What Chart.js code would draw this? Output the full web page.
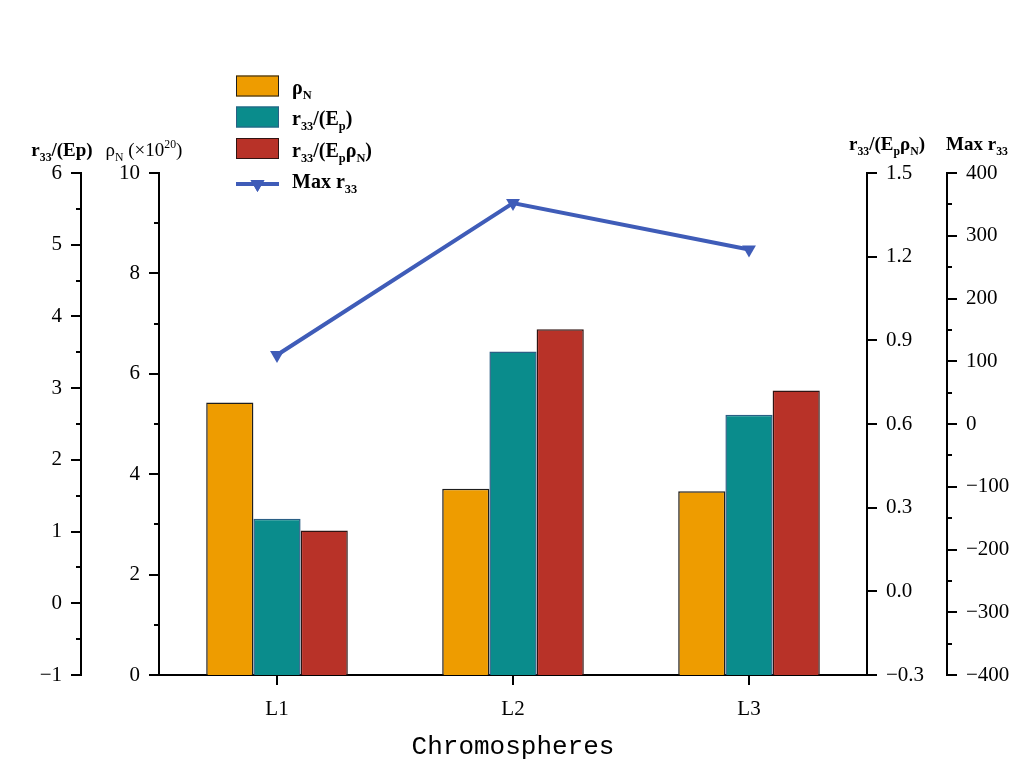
<!DOCTYPE html>
<html>
<head>
<meta charset="utf-8">
<script src="https://cdn.jsdelivr.net/npm/chart.js@4.4.0/dist/chart.umd.min.js"></script>
<style>html,body{margin:0;background:#fff}</style>
</head>
<body>
<canvas id="chart" width="1023" height="783"></canvas>
<script>
const categories = ["L1", "L2", "L3"];
const rhoN = [5.43, 3.71, 3.66];        // ρN (x10^20)
const r33Ep = [1.18, 3.51, 2.63];       // r33/(Ep)
const r33EpRho = [0.218, 0.94, 0.72];   // r33/(Ep ρN)
const maxR33 = [110, 352, 278];         // Max r33

// rich text pieces: [text, "sub"|"sup"|"", bold]
const legendLabels = [
  [["ρ", "", true], ["N", "sub", true]],
  [["r", "", true], ["33", "sub", true], ["/(E", "", true], ["p", "sub", true], [")", "", true]],
  [["r", "", true], ["33", "sub", true], ["/(E", "", true], ["p", "sub", true], ["ρ", "", true], ["N", "sub", true], [")", "", true]],
  [["Max r", "", true], ["33", "sub", true]]
];
const axisTitles = {
  yEp: [["r", "", true], ["33", "sub", true], ["/(Ep)", "", true]],
  yRho: [["ρ", "", false], ["N", "sub", false], [" (×10", "", false], ["20", "sup", false], [")", "", false]],
  yEpRho: [["r", "", true], ["33", "sub", true], ["/(E", "", true], ["p", "sub", true], ["ρ", "", true], ["N", "sub", true], [")", "", true]],
  yMax: [["Max r", "", true], ["33", "sub", true]]
};
const minorSteps = { yEp: 0.5, yRho: 1, yMax: 50 };

const SERIF = '"Liberation Serif", "DejaVu Serif", serif';
const minus = v => String(v).replace('-', '\u2212');

function richWidth(ctx, parts, size) {
  let w = 0;
  for (const [t, kind, bold] of parts) {
    ctx.font = `${bold ? 'bold ' : ''}${kind ? size * 0.62 : size}px ${SERIF}`;
    w += ctx.measureText(t).width;
  }
  return w;
}
function drawRich(ctx, parts, x, y, size) {
  let cx = x;
  for (const [t, kind, bold] of parts) {
    ctx.font = `${bold ? 'bold ' : ''}${kind ? size * 0.62 : size}px ${SERIF}`;
    const dy = kind === 'sub' ? size * 0.25 : kind === 'sup' ? -size * 0.4 : 0;
    ctx.fillText(t, cx, y + dy);
    cx += ctx.measureText(t).width;
  }
}

const axesPlugin = {
  id: 'axesPlugin',
  afterDraw(chart) {
    const ctx = chart.ctx;
    ctx.save();
    ctx.strokeStyle = '#000';
    ctx.lineWidth = 2;
    // y ticks, major + minor
    for (const id of ['yEp', 'yRho', 'yEpRho', 'yMax']) {
      const s = chart.scales[id];
      const isLeft = s.options.position === 'left';
      const x0 = isLeft ? s.right : s.left;
      const dir = isLeft ? -1 : 1;
      const tick = (v, len) => {
        const y = Math.round(s.getPixelForValue(v));
        ctx.beginPath();
        ctx.moveTo(x0, y);
        ctx.lineTo(x0 + dir * len, y);
        ctx.stroke();
      };
      s.ticks.forEach(t => tick(t.value, 10));
      const step = minorSteps[id];
      if (step) {
        const n = Math.round((s.max - s.min) / step);
        for (let i = 1; i < n; i += 2) tick(s.min + i * step, 5);
      }
      // axis title
      const size = 19;
      const parts = axisTitles[id];
      const w = richWidth(ctx, parts, size);
      const cx = isLeft ? x0 - (id === 'yEp' ? 19 : 15) : x0 + (id === 'yEpRho' ? 20 : 30);
      ctx.fillStyle = '#000';
      ctx.textAlign = 'left';
      ctx.textBaseline = 'alphabetic';
      drawRich(ctx, parts, cx - w / 2, isLeft ? 156 : 150, size);
    }
    // x ticks
    const xs = chart.scales.x;
    xs.ticks.forEach((t, i) => {
      const x = Math.round(xs.getPixelForTick(i));
      ctx.beginPath();
      ctx.moveTo(x, xs.top);
      ctx.lineTo(x, xs.top + 10);
      ctx.stroke();
    });
    // legend
    const rows = [86, 117, 148.5, 184];
    const lx = 236, lw = 43, lh = 21;
    const bars = chart.data.datasets.filter(d => d.type === 'bar');
    const line = chart.data.datasets.find(d => d.type === 'line');
    bars.forEach((d, i) => {
      ctx.fillStyle = d.backgroundColor;
      ctx.fillRect(lx, rows[i] - lh / 2, lw, lh);
      ctx.lineWidth = 1;
      ctx.strokeStyle = d.borderColor;
      ctx.strokeRect(lx + 0.5, rows[i] - lh / 2 + 0.5, lw - 1, lh - 1);
      ctx.fillStyle = '#000';
      drawRich(ctx, legendLabels[i], 292, rows[i] + 8, 20);
    });
    const ly = rows[3];
    ctx.strokeStyle = line.borderColor;
    ctx.lineWidth = 4;
    ctx.beginPath();
    ctx.moveTo(lx, ly);
    ctx.lineTo(lx + lw, ly);
    ctx.stroke();
    ctx.fillStyle = line.borderColor;
    Chart.helpers.drawPoint(ctx, { pointStyle: 'triangle', rotation: 180, radius: 8, borderWidth: 0 }, lx + lw / 2, ly);
    ctx.fill();
    ctx.fillStyle = '#000';
    drawRich(ctx, legendLabels[3], 292, ly + 4, 20);
    ctx.restore();
  }
};

const tickFont = { family: SERIF, size: 21 };
const yBase = {
  grid: { display: false, drawTicks: true, tickLength: 10 },
  border: { display: true, color: '#000', width: 2 },
  ticks: { color: '#000', font: tickFont, padding: 9, autoSkip: false }
};

new Chart(document.getElementById('chart'), {
  data: {
    labels: categories,
    datasets: [
      {
        type: 'line', label: 'Max r33', data: maxR33, yAxisID: 'yMax', order: 0,
        borderColor: '#3F5CB8', backgroundColor: '#3F5CB8', borderWidth: 4,
        pointStyle: 'triangle', rotation: 180, pointRadius: 8, pointBorderWidth: 0,
        pointBackgroundColor: '#3F5CB8'
      },
      {
        type: 'bar', label: 'ρN', data: rhoN, yAxisID: 'yRho', order: 1, base: 0,
        backgroundColor: '#EE9C00', borderColor: '#1e1e1e', borderWidth: 1.5
      },
      {
        type: 'bar', label: 'r33/(Ep)', data: r33Ep, yAxisID: 'yEp', order: 1, base: -1,
        backgroundColor: '#0A8C8C', borderColor: '#2a5f85', borderWidth: 1.5
      },
      {
        type: 'bar', label: 'r33/(EpρN)', data: r33EpRho, yAxisID: 'yEpRho', order: 1, base: -0.3,
        backgroundColor: '#B83228', borderColor: '#301412', borderWidth: 1.5
      }
    ]
  },
  options: {
    responsive: false,
    animation: false,
    layout: { padding: { top: 173, left: 0, right: 0, bottom: 0 } },
    datasets: { bar: { categoryPercentage: 0.6, barPercentage: 1 } },
    plugins: { legend: { display: false }, tooltip: { enabled: false } },
    scales: {
      x: {
        type: 'category', offset: true,
        grid: { display: false, drawTicks: true, tickLength: 10 },
        border: { display: true, color: '#000', width: 2 },
        ticks: { color: '#000', font: tickFont, padding: 12 },
        title: { display: true, text: 'Chromospheres', color: '#000',
          font: { family: '"Liberation Mono", monospace', size: 26 }, padding: { top: 0, bottom: 20 } },
        afterFit: s => { s.height = 108; }
      },
      yEp: Object.assign({}, yBase, {
        position: 'left', weight: 2, min: -1, max: 6,
        ticks: Object.assign({}, yBase.ticks, { stepSize: 1, callback: v => minus(v) }),
        afterFit: s => { s.width = 81; }
      }),
      yRho: Object.assign({}, yBase, {
        position: 'left', weight: 1, min: 0, max: 10,
        ticks: Object.assign({}, yBase.ticks, { stepSize: 2, callback: v => minus(v) }),
        afterFit: s => { s.width = 78; }
      }),
      yEpRho: Object.assign({}, yBase, {
        position: 'right', weight: 1, min: -0.3, max: 1.5,
        ticks: Object.assign({}, yBase.ticks, { stepSize: 0.3, callback: v => minus(v.toFixed(1)) }),
        afterFit: s => { s.width = 80; }
      }),
      yMax: Object.assign({}, yBase, {
        position: 'right', weight: 2, min: -400, max: 400,
        ticks: Object.assign({}, yBase.ticks, { stepSize: 100, callback: v => minus(v) }),
        afterFit: s => { s.width = 76; }
      })
    }
  },
  plugins: [axesPlugin]
});
</script>
</body>
</html>
